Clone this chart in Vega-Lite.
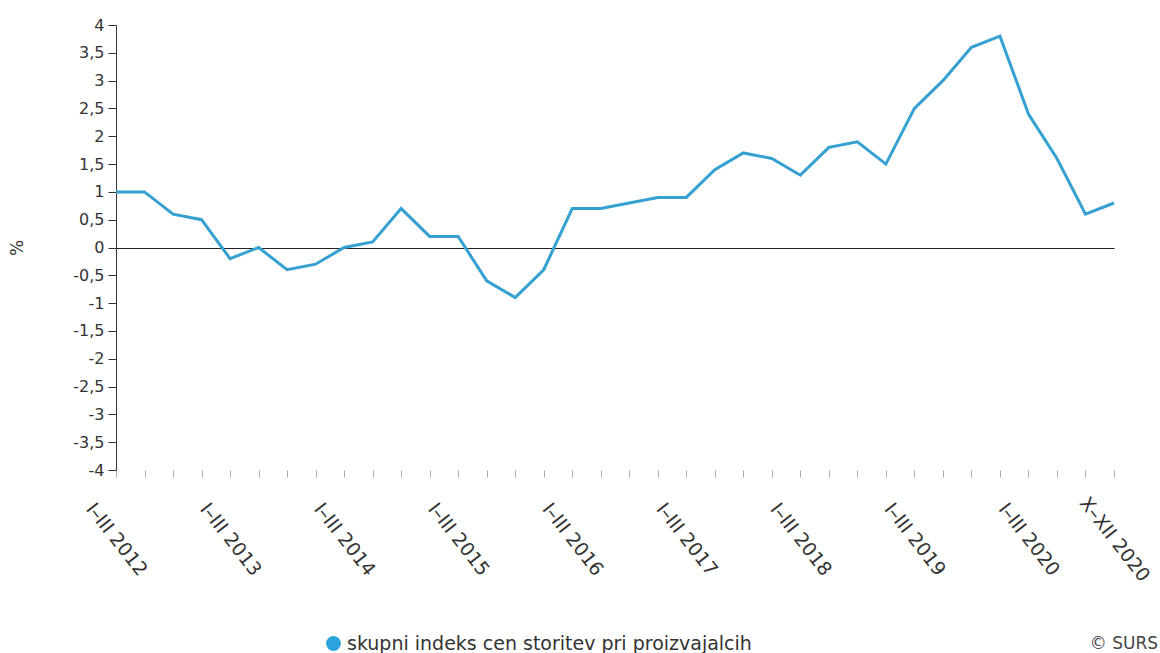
{
  "$schema": "https://vega.github.io/schema/vega-lite/v6.json",
  "width": 998,
  "height": 445,
  "autosize": {"type": "none"},
  "padding": {"left": 116, "top": 25, "right": 46, "bottom": 183},
  "background": "white",
  "config": {
    "font": "DejaVu Sans",
    "view": {"stroke": null}
  },
  "title": {
    "text": "© SURS",
    "orient": "top",
    "anchor": "end",
    "frame": "group",
    "fontSize": 17,
    "fontWeight": "normal",
    "font": "DejaVu Sans",
    "color": "#444444",
    "offset": 0,
    "dx": 44,
    "dy": 636
  },
  "data": {
    "values": [
      {"q": "I–III 2012", "v": 1.0, "s": "skupni indeks cen storitev pri proizvajalcih"},
      {"q": "IV–VI 2012", "v": 1.0, "s": "skupni indeks cen storitev pri proizvajalcih"},
      {"q": "VII–IX 2012", "v": 0.6, "s": "skupni indeks cen storitev pri proizvajalcih"},
      {"q": "X–XII 2012", "v": 0.5, "s": "skupni indeks cen storitev pri proizvajalcih"},
      {"q": "I–III 2013", "v": -0.2, "s": "skupni indeks cen storitev pri proizvajalcih"},
      {"q": "IV–VI 2013", "v": 0.0, "s": "skupni indeks cen storitev pri proizvajalcih"},
      {"q": "VII–IX 2013", "v": -0.4, "s": "skupni indeks cen storitev pri proizvajalcih"},
      {"q": "X–XII 2013", "v": -0.3, "s": "skupni indeks cen storitev pri proizvajalcih"},
      {"q": "I–III 2014", "v": 0.0, "s": "skupni indeks cen storitev pri proizvajalcih"},
      {"q": "IV–VI 2014", "v": 0.1, "s": "skupni indeks cen storitev pri proizvajalcih"},
      {"q": "VII–IX 2014", "v": 0.7, "s": "skupni indeks cen storitev pri proizvajalcih"},
      {"q": "X–XII 2014", "v": 0.2, "s": "skupni indeks cen storitev pri proizvajalcih"},
      {"q": "I–III 2015", "v": 0.2, "s": "skupni indeks cen storitev pri proizvajalcih"},
      {"q": "IV–VI 2015", "v": -0.6, "s": "skupni indeks cen storitev pri proizvajalcih"},
      {"q": "VII–IX 2015", "v": -0.9, "s": "skupni indeks cen storitev pri proizvajalcih"},
      {"q": "X–XII 2015", "v": -0.4, "s": "skupni indeks cen storitev pri proizvajalcih"},
      {"q": "I–III 2016", "v": 0.7, "s": "skupni indeks cen storitev pri proizvajalcih"},
      {"q": "IV–VI 2016", "v": 0.7, "s": "skupni indeks cen storitev pri proizvajalcih"},
      {"q": "VII–IX 2016", "v": 0.8, "s": "skupni indeks cen storitev pri proizvajalcih"},
      {"q": "X–XII 2016", "v": 0.9, "s": "skupni indeks cen storitev pri proizvajalcih"},
      {"q": "I–III 2017", "v": 0.9, "s": "skupni indeks cen storitev pri proizvajalcih"},
      {"q": "IV–VI 2017", "v": 1.4, "s": "skupni indeks cen storitev pri proizvajalcih"},
      {"q": "VII–IX 2017", "v": 1.7, "s": "skupni indeks cen storitev pri proizvajalcih"},
      {"q": "X–XII 2017", "v": 1.6, "s": "skupni indeks cen storitev pri proizvajalcih"},
      {"q": "I–III 2018", "v": 1.3, "s": "skupni indeks cen storitev pri proizvajalcih"},
      {"q": "IV–VI 2018", "v": 1.8, "s": "skupni indeks cen storitev pri proizvajalcih"},
      {"q": "VII–IX 2018", "v": 1.9, "s": "skupni indeks cen storitev pri proizvajalcih"},
      {"q": "X–XII 2018", "v": 1.5, "s": "skupni indeks cen storitev pri proizvajalcih"},
      {"q": "I–III 2019", "v": 2.5, "s": "skupni indeks cen storitev pri proizvajalcih"},
      {"q": "IV–VI 2019", "v": 3.0, "s": "skupni indeks cen storitev pri proizvajalcih"},
      {"q": "VII–IX 2019", "v": 3.6, "s": "skupni indeks cen storitev pri proizvajalcih"},
      {"q": "X–XII 2019", "v": 3.8, "s": "skupni indeks cen storitev pri proizvajalcih"},
      {"q": "I–III 2020", "v": 2.4, "s": "skupni indeks cen storitev pri proizvajalcih"},
      {"q": "IV–VI 2020", "v": 1.6, "s": "skupni indeks cen storitev pri proizvajalcih"},
      {"q": "VII–IX 2020", "v": 0.6, "s": "skupni indeks cen storitev pri proizvajalcih"},
      {"q": "X–XII 2020", "v": 0.8, "s": "skupni indeks cen storitev pri proizvajalcih"}
    ]
  },
  "mark": {"type": "line", "strokeWidth": 3, "interpolate": "linear"},
  "encoding": {
    "x": {
      "field": "q",
      "type": "ordinal",
      "sort": null,
      "scale": {"type": "point", "padding": 0},
      "axis": {
        "title": null,
        "domain": false,
        "ticks": true,
        "tickColor": "#aaaaaa",
        "tickSize": 7,
        "labelAngle": 52,
        "labelAlign": "center",
        "labelBaseline": "middle",
        "labelPadding": 62,
        "labelFontSize": 19,
        "labelColor": "#333333",
        "labelOverlap": false,
        "labelBound": false,
        "labelExpr": "indexof(datum.label, 'I–III') === 0 || datum.label === 'X–XII 2020' ? datum.label : ''"
      }
    },
    "y": {
      "field": "v",
      "type": "quantitative",
      "scale": {"domain": [-4, 4], "nice": false, "zero": false},
      "axis": {
        "title": "%",
        "titleFontSize": 17,
        "titleFontWeight": "normal",
        "titleColor": "#333333",
        "titlePadding": 46,
        "values": [-4, -3.5, -3, -2.5, -2, -1.5, -1, -0.5, 0, 0.5, 1, 1.5, 2, 2.5, 3, 3.5, 4],
        "grid": true,
        "gridColor": "#222222",
        "gridWidth": 1.2,
        "gridOpacity": {"condition": {"test": "datum.value === 0", "value": 1}, "value": 0},
        "domain": true,
        "domainColor": "#333333",
        "domainWidth": 1,
        "tickColor": "#333333",
        "tickSize": 8,
        "labelFontSize": 16,
        "labelColor": "#333333",
        "labelPadding": 4,
        "labelOverlap": false,
        "labelExpr": "replace(toString(datum.value), '.', ',')"
      }
    },
    "color": {
      "field": "s",
      "type": "nominal",
      "scale": {"range": ["#35a0d2"]},
      "legend": {
        "title": null,
        "orient": "none",
        "legendX": 208,
        "legendY": 609,
        "symbolType": "circle",
        "symbolSize": 220,
        "symbolFillColor": "#2ba3dc",
        "symbolStrokeColor": "#2ba3dc",
        "symbolStrokeWidth": 0,
        "labelFont": "DejaVu Sans",
        "labelFontSize": 19,
        "labelColor": "#333333",
        "labelLimit": 700
      }
    }
  }
}
